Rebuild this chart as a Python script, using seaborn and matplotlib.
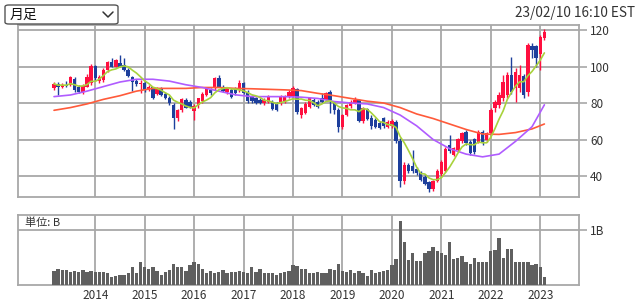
import numpy as np
import pandas as pd
import matplotlib
matplotlib.use("Agg")
import matplotlib.pyplot as plt
import seaborn as sns
from matplotlib.patches import FancyBboxPatch
from matplotlib.lines import Line2D

# ---------------- data (monthly, Mar 2013 .. Feb 2023) ----------------
start_month = "2013-03"
opens = [88, 90.5, 89, 90, 90, 93, 89, 86, 89, 91,
         100.5, 92, 92.5, 98, 102.5, 100, 102, 101, 98, 94.5, 92, 90.5,
         91, 87, 88.5, 85, 87.5, 85, 83, 79, 72, 76, 81.5, 80.5,
         75.5, 79, 81, 84.5, 87, 88, 93.5, 89, 86.2, 87, 88, 87,
         90.8, 86, 83.5, 82.5, 81.6, 80, 80.7, 80.7, 79.8, 79.8, 80.7, 83.5,
         84, 87.5, 73.5, 74.5, 78, 81.6, 80.7, 82.6, 81.6, 86.2, 80, 76,
         67, 73.5, 78.5, 80, 81.5, 70, 76.5, 72, 70.7, 69, 71.6, 67,
         67.5, 69.5, 59, 37, 46, 45.5, 44, 42, 39.5, 36.5, 33, 37,
         41, 43, 57, 51.5, 54.5, 59, 64, 58.8, 60.5, 58.8, 64, 59.7,
         63.4, 77, 79, 82.6, 84.4, 95.3, 88, 88, 95, 86.2, 111.5, 111,
         107, 115.5]
highs = [91.5, 91.5, 91, 92, 95, 94, 90, 90.5, 96, 101.5,
         101, 95.5, 99, 103, 104.5, 104, 106.3, 104.5, 99, 95, 93, 92.5,
         92, 90, 89, 89, 88.5, 86, 84, 80, 76.5, 83, 82.5, 81.5,
         79.5, 83, 86, 89, 88, 94.5, 95.3, 90, 89, 88, 89, 92.6,
         91.5, 87, 84.5, 83.5, 82.5, 82.5, 84.5, 81.5, 80.5, 84.5, 84.5, 87,
         89.5, 88, 78, 80.5, 83.5, 82.5, 81.5, 85.3, 86, 87, 81, 77,
         74, 79.5, 81.5, 83.5, 82, 78, 77.5, 73.5, 71.6, 70, 72.5, 70.5,
         71, 70.5, 61, 47.5, 47, 54.2, 45, 43, 41, 37.5, 38, 44,
         49, 56, 62.5, 56, 61, 64, 65, 59.5, 61, 65, 65, 64,
         77, 81.5, 86, 95.3, 97, 105.4, 99, 100.8, 96, 113, 113, 112,
         117, 120.5]
lows = [87, 84.5, 88, 88.5, 89.5, 86, 85.5, 85, 88.5, 90,
        92.5, 91, 91.5, 97, 99.5, 99.5, 99.5, 97.5, 94, 86.5, 89.5, 85.3,
        86, 86.5, 82, 84.5, 84, 82, 79, 66, 70, 75, 77, 77,
        70.7, 77, 80, 84, 84.5, 87, 88.5, 86, 85, 83, 84.5, 86,
        85, 80, 80, 79.5, 79.5, 79, 80, 76, 75.5, 79, 80, 83,
        83.5, 74, 72, 74, 77.5, 78.5, 77.5, 80, 81, 74.3, 74, 64.3,
        66, 73, 77.5, 79.5, 69.5, 69, 70.5, 66, 66.5, 65.5, 66.5, 66.5,
        66.5, 58, 34.2, 35.5, 41.5, 41.5, 40.5, 37.5, 35, 31.5, 32, 36.5,
        40, 42, 52.5, 51, 53.5, 58, 57, 51.5, 52, 58, 57, 58.5,
        62.5, 75, 77, 81, 83, 85, 80.7, 86, 83, 84, 104.5, 100,
        98, 114.5]
closes = [90.5, 89, 90, 89.5, 94, 87, 86, 89.5, 94.5, 100.5,
          93.5, 94.5, 98, 102.5, 100, 103.5, 100, 98, 95, 91.5, 90.5, 91,
          87, 89, 83, 87.5, 84.5, 82.5, 80, 72, 76, 82, 77.5, 78,
          78.5, 82.5, 85, 88, 85.5, 93.5, 89, 86.5, 88, 83.5, 85.3, 90.8,
          85.5, 81, 81, 80, 80, 81.6, 83.5, 76.5, 76.2, 83.5, 83.5, 86.2,
          88, 75, 77, 79.5, 82.5, 79, 78, 80.7, 85.3, 81.6, 76, 67,
          73.4, 78.9, 80.7, 81.6, 70, 77, 71, 67.2, 67, 66.5, 67.5, 69.8,
          70, 59, 37, 46, 42.5, 43, 41.5, 38, 35.5, 33, 37, 43,
          47.8, 55, 53.5, 55.2, 60.5, 63.4, 58, 52.5, 53, 64.3, 58, 63.4,
          76.2, 80.7, 84.4, 91.7, 95.3, 86.2, 97, 95.3, 84.4, 111.8, 109, 104.5,
          116, 119]
volumes = [0.26, 0.29, 0.27, 0.27, 0.24, 0.26, 0.24, 0.27, 0.24, 0.26,
           0.24, 0.24, 0.23, 0.22, 0.15, 0.17, 0.19, 0.19, 0.22, 0.33, 0.22, 0.41,
           0.33, 0.30, 0.32, 0.26, 0.19, 0.23, 0.27, 0.38, 0.32, 0.32, 0.26, 0.36,
           0.42, 0.38, 0.29, 0.22, 0.26, 0.22, 0.24, 0.27, 0.22, 0.24, 0.24, 0.26,
           0.24, 0.22, 0.32, 0.23, 0.29, 0.22, 0.21, 0.21, 0.19, 0.21, 0.23, 0.26,
           0.36, 0.35, 0.29, 0.30, 0.22, 0.22, 0.24, 0.21, 0.21, 0.29, 0.27, 0.38,
           0.26, 0.23, 0.27, 0.21, 0.26, 0.21, 0.17, 0.27, 0.22, 0.23, 0.26, 0.27,
           0.36, 0.47, 1.17, 0.79, 0.46, 0.59, 0.44, 0.44, 0.59, 0.62, 0.69, 0.62,
           0.59, 0.55, 0.79, 0.47, 0.50, 0.53, 0.42, 0.39, 0.49, 0.42, 0.42, 0.42,
           0.61, 0.64, 0.86, 0.50, 0.65, 0.65, 0.42, 0.42, 0.41, 0.42, 0.36, 0.38,
           0.32, 0.15]
# 24- and 60-month moving averages (month index, value)
ma_read_idx = [0, 4, 8, 12, 16, 20, 24, 28, 32, 36, 40, 44, 48, 52, 56, 60,
               64, 68, 72, 76, 80, 84, 88, 92, 96, 100, 104, 108, 112, 116, 119]
ma24 = [83.5, 84.4, 86.5, 89, 91.5, 93, 93, 92, 90, 88.5, 86.5, 84.5, 83.5, 83.5, 83.5, 83.2,
        82.5, 80.8, 80, 79.5, 77.5, 73.4, 67.5, 60, 55, 52, 50.5, 52, 59, 67, 79]
ma60 = [76, 77.5, 79.5, 82, 84, 86.5, 88, 88, 88, 88.5, 88.5, 88, 87.8, 87.5, 87.2, 86.8,
        85.3, 84, 82.5, 81, 80, 77.5, 74, 71.5, 68.5, 65.5, 63, 62.8, 63.8, 65.8, 68.5]
price_ticks = [40, 60, 80, 100, 120]
title_left = "月足"
title_right = "23/02/10 16:10 EST"
unit_label = "単位: B"

# ---------------- derived frame ----------------
months = pd.period_range(start_month, periods=len(closes), freq="M")
df = pd.DataFrame({"i": np.arange(len(closes)), "open": opens, "high": highs,
                   "low": lows, "close": closes, "volume": volumes})
df["ma6"] = df["close"].rolling(6, min_periods=1).mean()
jan_idx = [k for k, m in enumerate(months) if m.month == 1]
jan_lab = [str(months[k].year) for k in jan_idx]

sns.set_theme(style="white")
plt.rcParams["font.family"] = ["Noto Sans CJK JP", "DejaVu Sans"]

UP = "#ff0f3f"
DOWN = "#1d3f9c"
GRID = "#a8a8a8"
W, H = 640, 303
fig = plt.figure(figsize=(6.4, 3.03), dpi=100)

def fx(px):
    return px / W

def fy(py):
    return 1 - py / H

ax = fig.add_axes([fx(18), fy(197), fx(579) - fx(18), fy(25) - fy(197)])
axv = fig.add_axes([fx(18), fy(285), fx(579) - fx(18), fy(215) - fy(285)])

xlim = (-8.74, 127.4)

# candles
up = df["close"] >= df["open"]
cols = np.where(up, UP, DOWN)
body_lo = np.minimum(df["open"], df["close"])
body_h = np.maximum(np.abs(df["close"] - df["open"]), 0.5)
ax.vlines(df["i"], df["low"], df["high"], colors=cols, lw=1.0, zorder=3)
ax.bar(df["i"], body_h, bottom=body_lo, width=0.82, color=cols, linewidth=0, zorder=4)

# moving averages
sns.lineplot(x=ma_read_idx, y=ma60, ax=ax, color="#ff5a3a", lw=1.2, zorder=5)
sns.lineplot(x=ma_read_idx, y=ma24, ax=ax, color="#b05cff", lw=1.2, zorder=5)
sns.lineplot(data=df, x="i", y="ma6", ax=ax, color="#a8d23c", lw=1.2, zorder=6)

ax.set_xlim(*xlim)
ax.set_ylim(28.5, 122.74)
ax.set_xticks(jan_idx)
ax.set_xticklabels([])
ax.set_yticks(price_ticks)
ax.yaxis.tick_right()
ax.tick_params(axis="y", length=6, width=1.2, color=GRID, labelsize=8.5,
               labelcolor="#333333", pad=2)
ax.tick_params(axis="x", length=0)
ax.grid(True, color=GRID, lw=1.3)
ax.set_axisbelow(True)
ax.set_xlabel("")
ax.set_ylabel("")
for s in ax.spines.values():
    s.set_color(GRID)
    s.set_linewidth(1.3)

# volume
sns.barplot(data=df, x="i", y="volume", native_scale=True, color="#5f5f5f",
            saturation=1, width=0.8, linewidth=0, edgecolor="#5f5f5f",
            ax=axv, zorder=3)
axv.set_xlim(*xlim)
axv.set_ylim(0, 1.273)
axv.set_yticks([1.0])
axv.set_yticklabels(["1B"])
axv.yaxis.tick_right()
axv.set_xticks(jan_idx)
axv.set_xticklabels(jan_lab)
axv.tick_params(axis="y", length=6, width=1.2, color=GRID, labelsize=8.5,
                labelcolor="#333333", pad=2)
axv.tick_params(axis="x", length=0, labelsize=8.5, labelcolor="#333333", pad=3)
axv.grid(True, color=GRID, lw=1.3)
axv.set_axisbelow(True)
axv.set_xlabel("")
axv.set_ylabel("")
for s in axv.spines.values():
    s.set_color(GRID)
    s.set_linewidth(1.3)
axv.text(0.012, 0.89, unit_label, transform=axv.transAxes, fontsize=8,
         color="#333333", va="center", ha="left")

# header: dropdown box and timestamp
box = FancyBboxPatch((fx(5), fy(24)), fx(118) - fx(5), fy(5) - fy(24),
                     boxstyle="round,pad=0,rounding_size=0.006",
                     transform=fig.transFigure, facecolor="white",
                     edgecolor="#555555", lw=1.0)
fig.patches.append(box)
fig.text(fx(10), fy(14.5), title_left, fontsize=10, color="#111111",
         va="center", ha="left")
fig.lines.append(Line2D([fx(103), fx(108), fx(113)], [fy(12), fy(17), fy(12)],
                        transform=fig.transFigure, color="#333333", lw=1.1))
fig.text(fx(635), fy(13), title_right, fontsize=9.8, color="#333333",
         va="center", ha="right")

fig.savefig("out.png", dpi=100, facecolor="white")
